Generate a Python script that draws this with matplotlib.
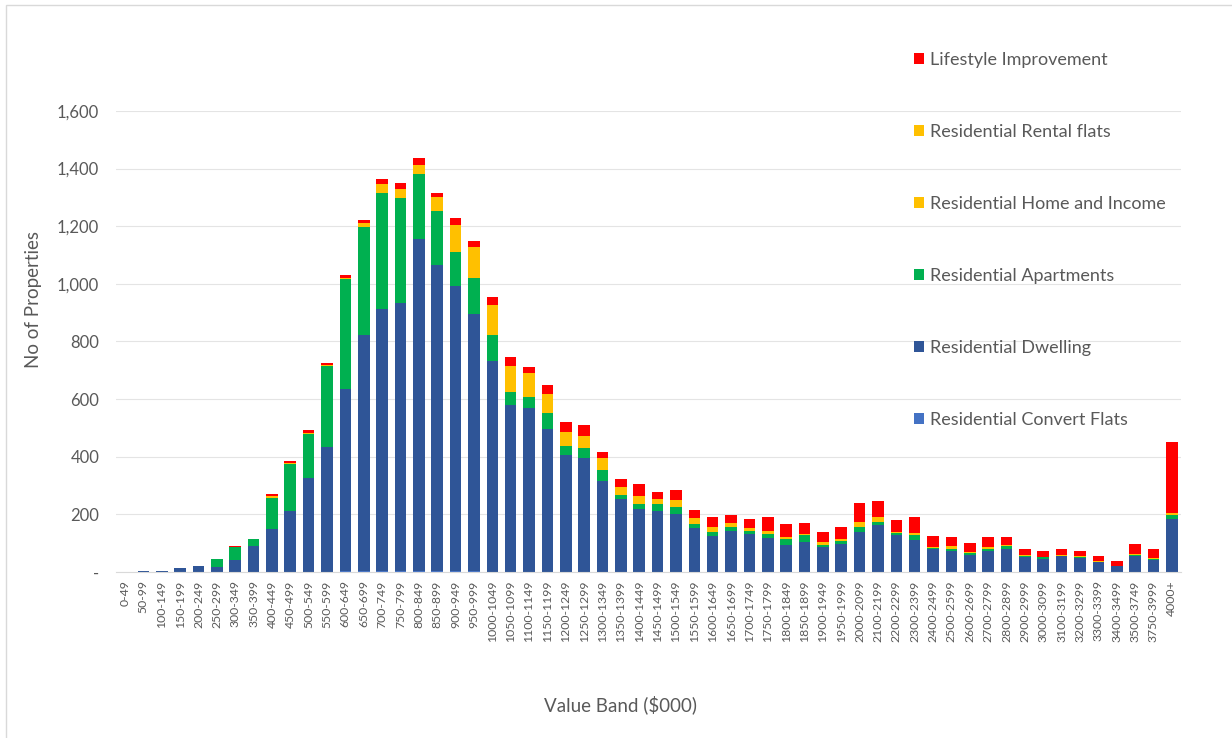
import matplotlib.pyplot as plt
import numpy as np
from matplotlib.patches import Rectangle

plt.rcParams['font.family'] = ['Lato', 'DejaVu Sans']

bandas = ["0-49", "50-99", "100-149", "150-199", "200-249", "250-299", "300-349",
          "350-399", "400-449", "450-499", "500-549", "550-599", "600-649", "650-699",
          "700-749", "750-799", "800-849", "850-899", "900-949", "950-999", "1000-1049",
          "1050-1099", "1100-1149", "1150-1199", "1200-1249", "1250-1299", "1300-1349",
          "1350-1399", "1400-1449", "1450-1499", "1500-1549", "1550-1599", "1600-1649",
          "1650-1699", "1700-1749", "1750-1799", "1800-1849", "1850-1899", "1900-1949",
          "1950-1999", "2000-2099", "2100-2199", "2200-2299", "2300-2399", "2400-2499",
          "2500-2599", "2600-2699", "2700-2799", "2800-2899", "2900-2999", "3000-3099",
          "3100-3199", "3200-3299", "3300-3399", "3400-3499", "3500-3749", "3750-3999",
          "4000+"]

# cantidades por tipo de propiedad (de abajo hacia arriba en cada barra)
convert_flats = [0, 0, 0, 0, 0, 0, 0, 0, 0, 0, 1, 1, 2, 2, 2, 2, 3, 2, 2, 2, 1,
                 1, 1, 1, 1, 1, 0, 0, 0, 0, 0, 0, 0, 0, 0, 0, 0, 0, 0, 0, 0,
                 0, 0, 0, 0, 0, 0, 0, 0, 0, 0, 0, 0, 0, 0, 0, 0, 0]
dwelling = [0, 2, 2, 13, 20, 17, 42, 91, 148, 212, 326, 431, 632, 820, 910, 933, 1153,
            1063, 990, 895, 732, 580, 568, 494, 404, 393, 316, 253, 218, 212, 200, 154,
            126, 142, 131, 119, 95, 104, 88, 96, 139, 162, 128, 110, 78, 74, 58, 73, 78,
            53, 44, 56, 47, 34, 19, 56, 42, 183]
apartments = [0, 0, 1, 0, 2, 29, 46, 22, 110, 163, 151, 284, 382, 377, 405, 364, 225,
              187, 119, 124, 89, 44, 39, 55, 33, 37, 37, 14, 17, 23, 26, 12, 13, 14, 11,
              12, 18, 23, 7, 12, 17, 12, 6, 17, 4, 7, 7, 7, 12, 4, 7, 1, 6, 1, 1, 3, 3, 13]
home_income = [0, 0, 2, 0, 0, 0, 0, 1, 4, 2, 3, 2, 3, 9, 21, 22, 24, 36, 70, 80, 79,
               68, 61, 50, 36, 31, 31, 22, 22, 14, 17, 17, 13, 11, 8, 8, 7, 4, 7, 4, 12,
               13, 3, 6, 5, 6, 3, 4, 2, 2, 2, 2, 2, 2, 2, 3, 4, 6]
rental_flats = [0, 0, 0, 0, 0, 0, 0, 0, 2, 1, 1, 1, 1, 3, 7, 7, 8, 12, 22, 26, 26,
                23, 20, 16, 12, 10, 10, 7, 7, 5, 6, 5, 4, 3, 3, 3, 2, 2, 2, 1, 4,
                4, 1, 2, 1, 2, 1, 1, 0, 0, 0, 0, 1, 0, 0, 1, 1, 2]
lifestyle = [0, 0, 0, 2, 0, 0, 2, 2, 6, 7, 11, 7, 10, 9, 19, 22, 23, 14, 27, 21, 27,
             31, 23, 34, 35, 37, 23, 28, 40, 24, 37, 26, 33, 28, 30, 49, 46, 38, 35, 43,
             68, 54, 41, 56, 37, 34, 33, 38, 31, 20, 20, 19, 17, 20, 16, 35, 29, 247]

series = [
    ("Residential Convert Flats", convert_flats, "#4472C4"),
    ("Residential Dwelling", dwelling, "#2F5597"),
    ("Residential Apartments", apartments, "#00B050"),
    ("Residential Home and Income", home_income, "#FFC000"),
    ("Residential Rental flats", rental_flats, "#FFC000"),
    ("Lifestyle Improvement", lifestyle, "#FF0000"),
]

gris = "#595959"

fig = plt.figure(figsize=(12.32, 7.38), dpi=100)
ax = fig.add_axes([0.094, 0.225, 0.8646, 0.6246])

x = np.arange(len(bandas))
base = np.zeros(len(bandas))
barras = []
for nombre, valores, color in series:
    b = ax.bar(x, valores, width=0.63, bottom=base, color=color, label=nombre, zorder=2)
    barras.append(b)
    base = base + np.array(valores)

ax.set_xlim(-0.5, len(bandas) - 0.5)
ax.set_ylim(0, 1600)
ax.set_yticks(np.arange(0, 1601, 200))
ax.set_yticklabels(["-"] + [f"{v:,}" for v in range(200, 1601, 200)])
ax.set_xticks(x)
ax.set_xticklabels(bandas, rotation=90, fontsize=8.8, color=gris)
ax.tick_params(axis='y', labelsize=12, colors=gris, length=0, pad=12)
ax.tick_params(axis='x', length=0, pad=6)
ax.grid(axis='y', color="#E4E4E4", linewidth=0.8, zorder=0)
for lado in ["top", "right", "left"]:
    ax.spines[lado].set_visible(False)
ax.spines["bottom"].set_color("#D9D9D9")

# leyenda en orden inverso al apilado
ax.legend(barras[::-1], [s[0] for s in series[::-1]], loc="upper left",
          bbox_to_anchor=(898 / 1232, 1 - 36 / 738), bbox_transform=fig.transFigure,
          frameon=False, fontsize=13, labelcolor=gris, handlelength=0.55,
          handleheight=0.55, handletextpad=0.35, labelspacing=3.1)

fig.text(621 / 1232, 1 - 705 / 738, "Value Band ($000)", ha="center", va="center",
         fontsize=13.5, color=gris)
fig.text(33 / 1232, 1 - 300 / 738, "No of Properties", ha="center", va="center",
         rotation=90, fontsize=13.5, color=gris)

# borde del grafico
fig.patches.append(Rectangle((6 / 1232, -0.1), 1.2, 1 - 5 / 738 + 0.1,
                             transform=fig.transFigure, fill=False,
                             edgecolor="#D9D9D9", linewidth=1))

fig.savefig("out.png", dpi=100)
